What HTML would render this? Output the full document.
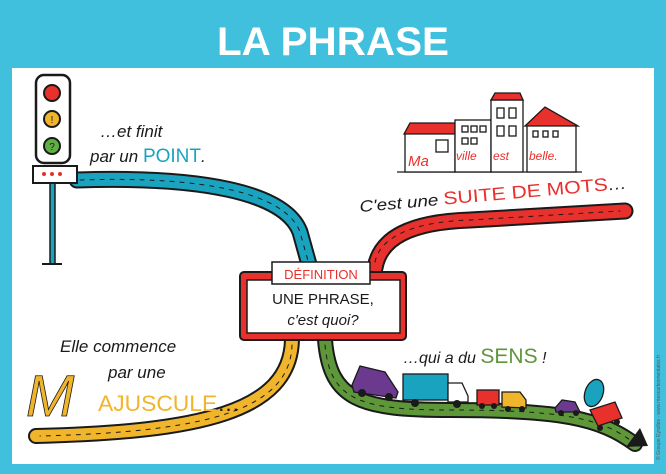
<!DOCTYPE html>
<html><head><meta charset="utf-8"><style>
html,body{margin:0;padding:0;background:#40c0dd;}
svg{display:block}
text{font-family:"Liberation Sans",sans-serif}
</style></head><body>
<svg width="666" height="474" viewBox="0 0 666 474" xmlns="http://www.w3.org/2000/svg">
<rect width="666" height="474" fill="#40c0dd"/>
<text x="333" y="55" text-anchor="middle" font-size="40" font-weight="bold" fill="#fff" textLength="232" lengthAdjust="spacingAndGlyphs">LA PHRASE</text>
<rect x="12" y="68" width="642" height="396" fill="#fff"/>
<text x="660" y="460" font-size="5" fill="#555" transform="rotate(-90 660 460)">© Groupe Eyrolles - www.mescartesmentales.fr</text>

<!-- roads -->
<g fill="none" stroke-linecap="round">
 <path d="M77,180 C200,176 285,192 300,232 L310,268" stroke="#1a1a1a" stroke-width="17"/>
 <path d="M77,180 C200,176 285,192 300,232 L310,268" stroke="#1aa3bf" stroke-width="13"/>
 <path d="M80,180 C200,176 285,192 300,232 L310,268" stroke="#1a1a1a" stroke-width="1" stroke-dasharray="4 6"/>
 <path d="M375,268 C380,238 410,222 470,220 L625,211" stroke="#1a1a1a" stroke-width="17"/>
 <path d="M375,268 C380,238 410,222 470,220 L625,211" stroke="#e8302c" stroke-width="13"/>
 <path d="M375,262 C380,238 410,222 470,220 L620,211" stroke="#1a1a1a" stroke-width="1" stroke-dasharray="4 6"/>
 <path d="M292,340 C290,412 200,432 36,436" stroke="#1a1a1a" stroke-width="16"/>
 <path d="M292,340 C290,412 200,432 36,436" stroke="#f0b52a" stroke-width="12"/>
 <path d="M292,345 C290,412 200,432 40,436" stroke="#1a1a1a" stroke-width="1" stroke-dasharray="4 6"/>
 <path d="M325,340 C330,400 360,410 450,410 C560,410 600,418 635,444" stroke="#1a1a1a" stroke-width="16"/>
 <path d="M325,340 C330,400 360,410 450,410 C560,410 600,418 635,444" stroke="#5e963a" stroke-width="12"/>
 <path d="M325,345 C330,400 360,410 450,410 C560,410 600,418 630,440" stroke="#1a1a1a" stroke-width="1" stroke-dasharray="4 6"/>
</g>
<path d="M626,447 L648,446 L640,428 Z" fill="#1a1a1a"/>

<!-- traffic light -->
<rect x="50" y="180" width="5" height="84" fill="#1aa3bf" stroke="#1a1a1a" stroke-width="1.5"/>
<line x1="42" y1="264" x2="62" y2="264" stroke="#1a1a1a" stroke-width="2"/>
<rect x="36" y="75" width="34" height="88" rx="8" fill="#fff" stroke="#1a1a1a" stroke-width="2.5"/>
<circle cx="52" cy="93" r="8" fill="#e8302c" stroke="#1a1a1a" stroke-width="2"/>
<circle cx="52" cy="119" r="8" fill="#f0b52a" stroke="#1a1a1a" stroke-width="2"/>
<text x="52" y="123" text-anchor="middle" font-size="10" fill="#1a1a1a">!</text>
<circle cx="52" cy="146" r="8" fill="#5eb043" stroke="#1a1a1a" stroke-width="2"/>
<text x="52" y="150" text-anchor="middle" font-size="10" fill="#1a1a1a">?</text>
<rect x="33" y="166" width="44" height="17" fill="#fff" stroke="#1a1a1a" stroke-width="2"/>
<circle cx="44" cy="174" r="2" fill="#e8302c"/><circle cx="52" cy="174" r="2" fill="#e8302c"/><circle cx="60" cy="174" r="2" fill="#e8302c"/>

<!-- texts -->
<text x="100" y="137" font-size="17" font-style="italic" fill="#1a1a1a" font-family="Liberation Serif,serif">…et finit</text>
<text x="90" y="162" font-size="17" font-style="italic" fill="#1a1a1a" font-family="Liberation Serif,serif">par un <tspan fill="#1aa3bf" font-style="normal" font-family="Liberation Sans,sans-serif" font-size="19">POINT</tspan>.</text>
<g transform="rotate(-5 360 212)">
<text x="360" y="212" font-size="16" font-style="italic" fill="#1a1a1a" font-family="Liberation Serif,serif" textLength="268" lengthAdjust="spacingAndGlyphs">C'est une <tspan fill="#e8302c" font-style="normal" font-family="Liberation Sans,sans-serif" font-size="18">SUITE DE MOTS</tspan>…</text>
</g>
<text x="60" y="352" font-size="17" font-style="italic" fill="#1a1a1a" font-family="Liberation Serif,serif">Elle commence</text>
<text x="108" y="378" font-size="17" font-style="italic" fill="#1a1a1a" font-family="Liberation Serif,serif">par une</text>
<text x="26" y="416" font-size="58" font-style="italic" fill="#f0b52a" stroke="#1a1a1a" stroke-width="0.8" font-family="Liberation Serif,serif">M</text>
<text x="98" y="411" font-size="22" fill="#f0b52a" font-family="Liberation Sans,sans-serif" textLength="142" lengthAdjust="spacingAndGlyphs">AJUSCULE<tspan fill="#1a1a1a">…</tspan></text>
<text x="403" y="363" font-size="16" font-style="italic" fill="#1a1a1a" font-family="Liberation Serif,serif">…qui a du <tspan fill="#5e963a" font-style="normal" font-family="Liberation Sans,sans-serif" font-size="21">SENS</tspan> !</text>

<!-- center box -->
<rect x="240" y="272" width="166" height="68" rx="4" fill="#e8302c" stroke="#1a1a1a" stroke-width="2"/>
<rect x="247" y="280" width="153" height="53" fill="#fff" stroke="#1a1a1a" stroke-width="1.5"/>
<rect x="272" y="262" width="98" height="22" fill="#fff" stroke="#1a1a1a" stroke-width="1.5"/>
<text x="321" y="279" text-anchor="middle" font-size="13" fill="#e8302c">DÉFINITION</text>
<text x="323" y="304" text-anchor="middle" font-size="15" fill="#1a1a1a">UNE PHRASE,</text>
<text x="323" y="325" text-anchor="middle" font-size="15" font-style="italic" fill="#1a1a1a" font-family="Liberation Serif,serif">c'est quoi?</text>

<!-- houses -->
<g stroke="#1a1a1a" stroke-width="1.3">
<line x1="397" y1="172" x2="582" y2="172"/>
<rect x="405" y="133" width="50" height="39" fill="#fff"/>
<path d="M404,134 L410,123 L455,123 L455,134 Z" fill="#e8302c"/>
<rect x="455" y="120" width="36" height="52" fill="#fff"/>
<rect x="491" y="100" width="32" height="72" fill="#fff"/>
<path d="M491,100 L495,93 L520,93 L523,100 Z" fill="#e8302c"/>
<rect x="527" y="125" width="49" height="47" fill="#fff"/>
<path d="M525,126 L545,107 L578,126 Z" fill="#e8302c"/>
<rect x="436" y="140" width="12" height="12" fill="#fff"/>
<g fill="none"><rect x="462" y="126" width="6" height="6"/><rect x="471" y="126" width="6" height="6"/><rect x="480" y="126" width="6" height="6"/>
<rect x="462" y="138" width="6" height="6"/><rect x="471" y="138" width="6" height="6"/>
<rect x="497" y="108" width="7" height="10"/><rect x="509" y="108" width="7" height="10"/>
<rect x="497" y="126" width="7" height="10"/><rect x="509" y="126" width="7" height="10"/>
<rect x="533" y="131" width="5" height="6"/><rect x="543" y="131" width="5" height="6"/><rect x="553" y="131" width="5" height="6"/></g>
</g>
<text x="408" y="166" font-size="15" font-style="italic" fill="#e8302c" font-family="Liberation Serif,serif">Ma</text>
<text x="456" y="160" font-size="12" font-style="italic" fill="#e8302c" font-family="Liberation Serif,serif">ville</text>
<text x="493" y="160" font-size="12" font-style="italic" fill="#e8302c" font-family="Liberation Serif,serif">est</text>
<text x="529" y="160" font-size="12" font-style="italic" fill="#e8302c" font-family="Liberation Serif,serif">belle.</text>

<!-- vehicles -->
<g stroke="#1a1a1a" stroke-width="1.3">
<path d="M352,385 L360,366 L385,372 L398,392 L396,398 L354,392 Z" fill="#6b3a8f"/>
<rect x="403" y="374" width="45" height="26" fill="#1aa3bf"/>
<path d="M448,383 L462,383 L468,396 L468,402 L448,402 Z" fill="#fff"/>
<rect x="477" y="390" width="22" height="15" fill="#e8302c"/>
<path d="M502,392 L520,392 L526,400 L526,408 L502,407 Z" fill="#f0b52a"/>
<path d="M555,408 L562,400 L575,402 L580,412 L556,412 Z" fill="#6b3a8f"/>
<ellipse cx="594" cy="393" rx="9" ry="14" fill="#1aa3bf" transform="rotate(20 594 393)"/>
<path d="M590,410 L615,402 L622,418 L598,426 Z" fill="#e8302c"/>
</g>
<g fill="#1a1a1a">
<circle cx="362" cy="393" r="4"/><circle cx="389" cy="397" r="4"/>
<circle cx="415" cy="403" r="4"/><circle cx="457" cy="404" r="4"/>
<circle cx="482" cy="406" r="3"/><circle cx="494" cy="406" r="3"/>
<circle cx="508" cy="409" r="3"/><circle cx="522" cy="409" r="3"/>
<circle cx="561" cy="413" r="3"/><circle cx="576" cy="413" r="3"/>
<circle cx="600" cy="428" r="3"/><circle cx="617" cy="422" r="3"/>
</g>
</svg>
</body></html>
